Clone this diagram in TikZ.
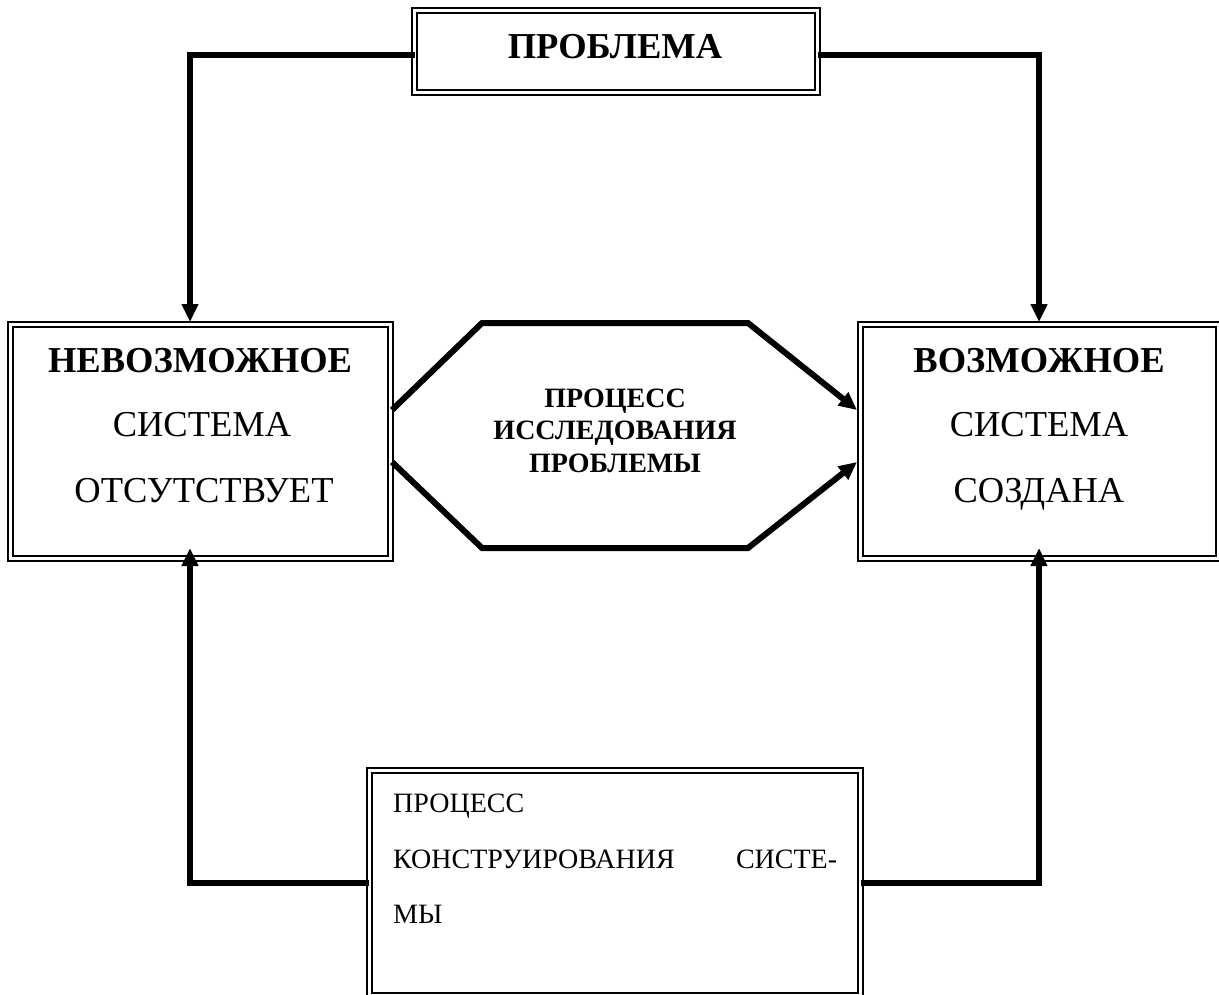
\documentclass[tikz,border=0pt]{standalone}
\usepackage{fontspec}
\setmainfont{Liberation Serif}
\usetikzlibrary{arrows.meta}

\tikzset{
  dbox/.style={draw, line width=2pt, double distance=3pt, rectangle,
               inner sep=0pt, outer sep=0pt},
  conn/.style={line width=6pt, line cap=butt, line join=miter},
  tip/.style={-{Triangle[length=18pt,width=16pt]}},
  bigb/.style={font=\fontsize{36.5}{40}\selectfont\bfseries, inner sep=0pt},
  bigr/.style={font=\fontsize{36.5}{40}\selectfont, inner sep=0pt},
  midb/.style={font=\fontsize{28}{32}\selectfont\bfseries, inner sep=0pt},
  midr/.style={font=\fontsize{28}{32}\selectfont, inner sep=0pt},
}

\begin{document}
\begin{tikzpicture}[x=1pt, y=-1pt]
\useasboundingbox (0,0) rectangle (1219,994);

% boxes
\node[dbox, minimum width=403pt, minimum height=82.5pt] (top) at (616,51.25) {};
\node[dbox, minimum width=380pt, minimum height=234pt] (left) at (200.5,441) {};
\node[dbox, minimum width=358pt, minimum height=234pt] (right) at (1039,441) {};
\node[dbox, minimum width=491.5pt, minimum height=225pt] (bot) at (614.75,882.5) {};

% texts
\node[bigb, anchor=base] (ttl) at (615,58) {ПРОБЛЕМА};

\node[bigb, anchor=base] (l1) at (200,372) {НЕВОЗМОЖНОЕ};
\node[bigr, anchor=base] (l2) at (202,436) {СИСТЕМА};
\node[bigr, anchor=base] (l3) at (204,502) {ОТСУТСТВУЕТ};

\node[bigb, anchor=base] (r1) at (1039,372) {ВОЗМОЖНОЕ};
\node[bigr, anchor=base] (r2) at (1039,436) {СИСТЕМА};
\node[bigr, anchor=base] (r3) at (1039,502) {СОЗДАНА};

\node[midb, anchor=base] (o1) at (615,407) {ПРОЦЕСС};
\node[midb, anchor=base] (o2) at (615,439) {ИССЛЕДОВАНИЯ};
\node[midb, anchor=base] (o3) at (615,472) {ПРОБЛЕМЫ};

\node[midr, anchor=base west] (b1) at (393,812) {ПРОЦЕСС};
\node[midr, anchor=base west] (b2) at (393,868)
  {\hbox to 444pt{КОНСТРУИРОВАНИЯ\hfill СИСТЕ-}};
\node[midr, anchor=base west] (b3) at (393,923) {МЫ};

% connectors from the problem box
\draw[conn, tip] ([yshift=-4pt]top.west) -| ([xshift=-10.5pt, yshift=2pt]left.north);
\draw[conn, tip] ([yshift=-4pt]top.east) -| ([yshift=2pt]right.north);

% connectors from the construction box
\draw[conn, tip] (bot.west) -| ([xshift=-10.5pt, yshift=10pt]left.south);
\draw[conn, tip] (bot.east) -| ([yshift=10pt]right.south);

% research process (octagon-like arrows)
\coordinate (a1) at (392,410);
\coordinate (a2) at (482,323);
\coordinate (a3) at (748,323);
\coordinate (a4) at (857,410);
\coordinate (c1) at (392,462);
\coordinate (c2) at (482,548);
\coordinate (c3) at (748,548);
\coordinate (c4) at (857,462);
\draw[conn, tip] (a1) -- (a2) -- (a3) -- (a4);
\draw[conn, tip] (c1) -- (c2) -- (c3) -- (c4);
\end{tikzpicture}
\end{document}
